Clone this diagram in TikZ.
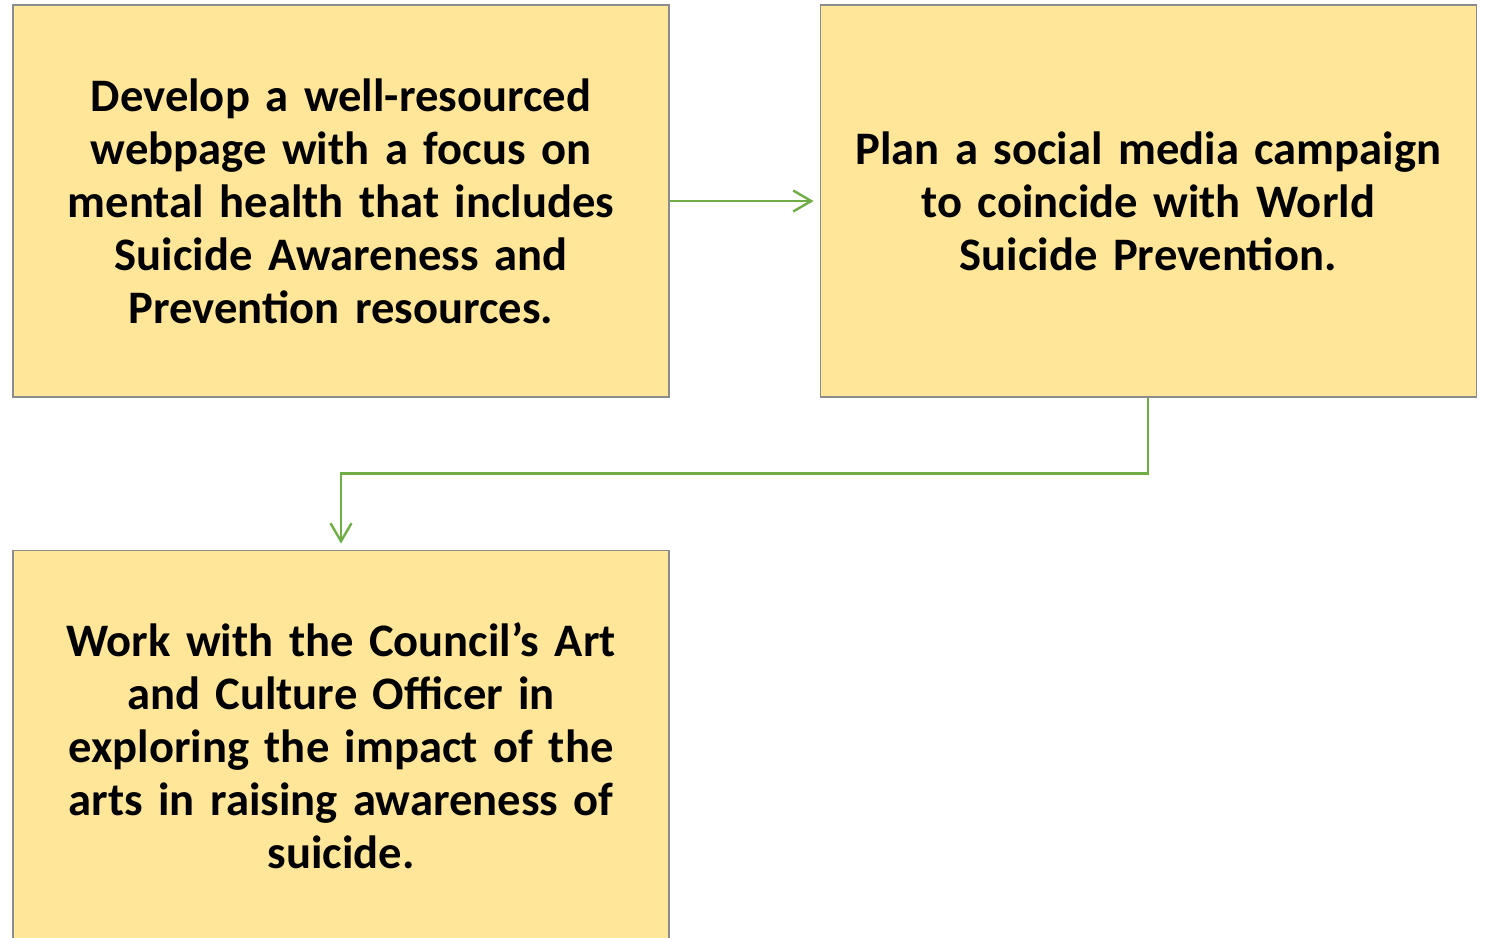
\documentclass[tikz,border=0pt]{standalone}
\usepackage{fontspec}
\setmainfont{Carlito}
\usetikzlibrary{arrows.meta,positioning}
\definecolor{boxfill}{HTML}{FFE699}
\definecolor{boxline}{HTML}{8C8C8C}
\definecolor{flowgreen}{HTML}{70AD47}
\tikzset{>={Straight Barb[length=9pt,width=10.5pt,line width=1.2pt]},
         stepbox/.style={draw=boxline, line width=0.6pt, fill=boxfill,
           minimum width=328pt, minimum height=196pt, inner sep=0pt,
           text width=315pt, align=center,
           font=\fontsize{23.3}{26.5}\selectfont\bfseries},
         flow/.style={->, draw=flowgreen, line width=1.2pt, shorten >=3pt}}

\begin{document}
\begin{tikzpicture}

	\useasboundingbox (0pt,0pt) rectangle (744pt,-468.5pt);
	\node[stepbox] (web) at (170.5pt,-100.5pt)
	  {Develop a well-resourced\\ webpage with a focus on\\ mental health that includes\\ Suicide Awareness and\\ Prevention resources.};
	\node[stepbox, right=75pt of web] (social)
	  {Plan a social media campaign\\ to coincide with World\\ Suicide Prevention.\\[26.5pt]};
	\node[stepbox, below=76pt of web] (arts)
	  {Work with the Council's Art\\ and Culture Officer in\\ exploring the impact of the\\ arts in raising awareness of\\ suicide.};
	% connectors
	\draw[flow] (web) -- (social);
	\coordinate (bend) at ([yshift=-38pt]social.south);
	\draw[flow] (social.south) -- (bend) -| (arts.north);
	\end{tikzpicture}
\end{document}
